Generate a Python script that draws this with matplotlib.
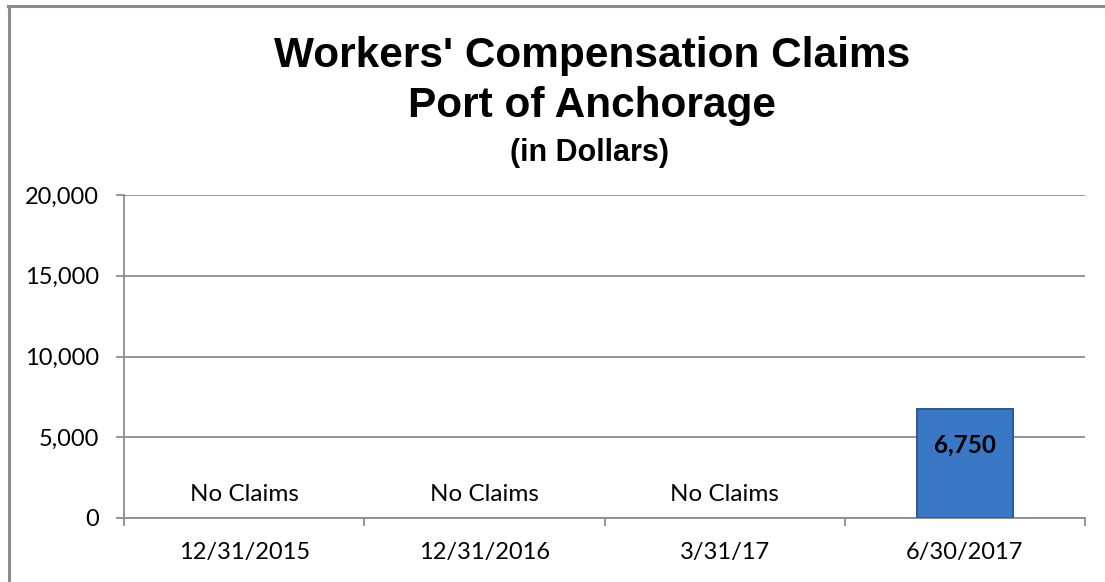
import matplotlib.pyplot as plt
from matplotlib.lines import Line2D
from matplotlib.ticker import FuncFormatter, FixedLocator

categories = ["12/31/2015", "12/31/2016", "3/31/17", "6/30/2017"]
claims = [0, 0, 0, 6750]
bar_labels = ["No Claims", "No Claims", "No Claims", "6,750"]
y_ticks = [0, 5000, 10000, 15000, 20000]

W, H = 1105, 582
fig = plt.figure(figsize=(W / 100, H / 100), dpi=100)
ax = fig.add_axes([124 / W, 1 - 518 / H, (1085 - 124) / W, (518 - 195) / H])

grey = "#8c8c8c"
x = list(range(len(categories)))
bars = ax.bar(x, claims, width=0.40, color="#3a77c4", edgecolor="#2b5a96", linewidth=1.4, zorder=3)
for b, v in zip(bars, claims):
    if v == 0:
        b.set_linewidth(0)

ax.set_xlim(-0.5, len(categories) - 0.5)
ax.set_ylim(0, 20000)
ax.set_yticks(y_ticks)
ax.yaxis.set_major_formatter(FuncFormatter(lambda v, p: f"{int(v):,}"))
ax.grid(axis="y", color=grey, linewidth=1.3, zorder=0)
ax.set_xticks(x)
ax.set_xticklabels(categories)
ax.xaxis.set_minor_locator(FixedLocator([i - 0.5 for i in range(len(categories) + 1)]))
ax.tick_params(axis="x", which="major", length=0, pad=17)
ax.tick_params(axis="x", which="minor", length=6, color=grey, width=1.3)
ax.tick_params(axis="y", length=6, color=grey, width=1.3, pad=12)
for lab in ax.get_xticklabels() + ax.get_yticklabels():
    lab.set_fontfamily("Lato")
    lab.set_fontsize(17)

for s in ["top", "right"]:
    ax.spines[s].set_visible(False)
ax.spines["left"].set_color(grey)
ax.spines["left"].set_linewidth(1.3)
ax.spines["bottom"].set_color(grey)
ax.spines["bottom"].set_linewidth(1.3)

for i, (v, lab) in enumerate(zip(claims, bar_labels)):
    if v == 0:
        ax.text(i, 1450, lab, ha="center", va="center", fontsize=17.5, family="Lato")
    else:
        ax.text(i, v - 2230, lab, ha="center", va="center", fontsize=17.5,
                family="Lato", fontweight="bold")

fig.text(592 / W, 1 - 56 / H, "Workers' Compensation Claims", ha="center", va="center",
         fontsize=30.5, fontweight="bold", family="Liberation Sans")
fig.text(592 / W, 1 - 106 / H, "Port of Anchorage", ha="center", va="center",
         fontsize=30.5, fontweight="bold", family="Liberation Sans")
fig.text(590 / W, 1 - 153 / H, "(in Dollars)", ha="center", va="center",
         fontsize=22, fontweight="bold", family="Liberation Sans")

# chart frame
fig.add_artist(Line2D([8 / W, 1.0], [1 - 6 / H] * 2, color=grey, linewidth=2.2))
fig.add_artist(Line2D([9 / W] * 2, [0, 1 - 6 / H], color=grey, linewidth=2.2))

fig.savefig("out.png", dpi=100, facecolor="white")
